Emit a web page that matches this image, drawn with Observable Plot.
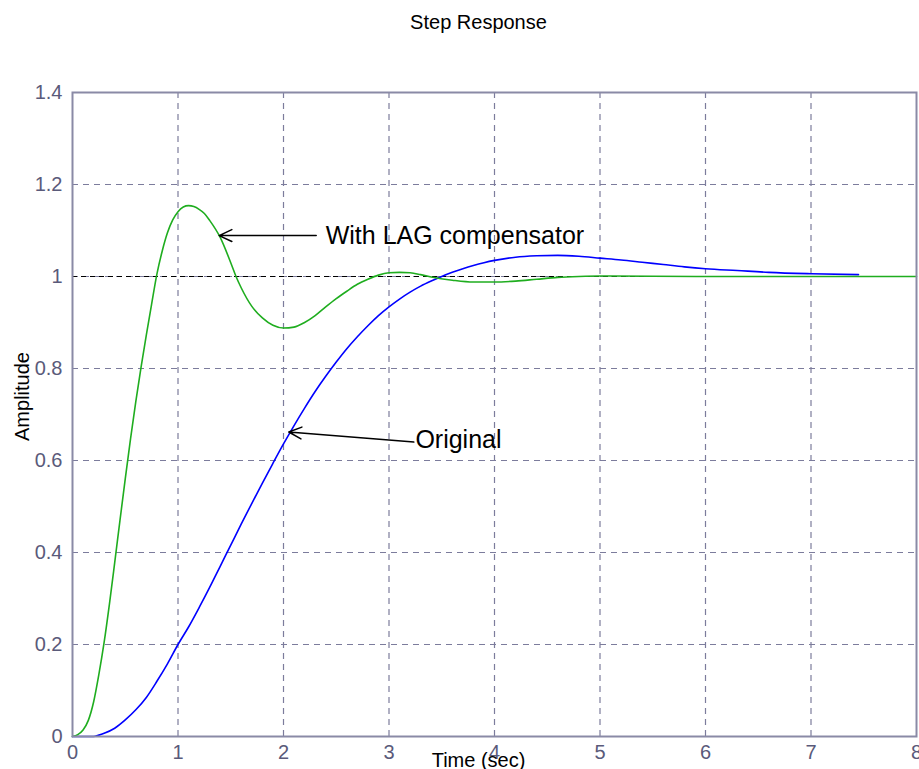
<!DOCTYPE html>
<html>
<head>
<meta charset="utf-8">
<script src="https://cdn.jsdelivr.net/npm/d3@7"></script>
<script src="https://cdn.jsdelivr.net/npm/@observablehq/plot@0.6"></script>
<style>
  html, body { margin: 0; padding: 0; background: #fff; }
  body { width: 919px; height: 769px; overflow: hidden; font-family: "Liberation Sans", Arial, sans-serif; }
  #title { height: 46px; line-height: 44px; font-size: 20px; text-align: center; padding-left: 38px; color: #000; }
</style>
</head>
<body>
<div id="title">Step Response</div>
<div id="chart"></div>
<script>
// ---- Data ----
const lagTime = [0, 0.05, 0.10, 0.15, 0.20, 0.25, 0.30, 0.35, 0.40, 0.45, 0.50, 0.55, 0.60, 0.65, 0.70, 0.75, 0.80, 0.85, 0.90, 0.95, 1.00, 1.05, 1.10, 1.15, 1.20, 1.25, 1.30, 1.40, 1.50, 1.55, 1.60, 1.70, 1.80, 1.90, 2.00, 2.10, 2.20, 2.30, 2.40, 2.50, 2.60, 2.70, 2.80, 2.90, 3.00, 3.10, 3.20, 3.30, 3.40, 3.60, 3.80, 4.00, 4.20, 4.40, 4.60, 4.80, 5.00, 6.00, 7.00, 8.00];
const lagAmp  = [0, 0.004, 0.014, 0.035, 0.075, 0.135, 0.205, 0.288, 0.378, 0.47, 0.56, 0.647, 0.728, 0.803, 0.873, 0.94, 1.005, 1.055, 1.095, 1.123, 1.141, 1.151, 1.154, 1.152, 1.146, 1.137, 1.122, 1.085, 1.03, 1.0, 0.975, 0.935, 0.91, 0.894, 0.888, 0.89, 0.90, 0.915, 0.934, 0.952, 0.968, 0.983, 0.994, 1.003, 1.008, 1.009, 1.008, 1.004, 0.999, 0.992, 0.988, 0.988, 0.99, 0.994, 0.998, 1.0, 1.001, 1.0, 1.0, 1.0];

const origTime = [0, 0.2, 0.25, 0.3, 0.4, 0.5, 0.6, 0.7, 0.8, 0.9, 1.0, 1.1, 1.2, 1.3, 1.4, 1.5, 1.6, 1.7, 1.8, 1.9, 2.0, 2.1, 2.2, 2.3, 2.4, 2.5, 2.6, 2.7, 2.8, 2.9, 3.0, 3.1, 3.2, 3.3, 3.4, 3.5, 3.6, 3.7, 3.8, 3.9, 4.0, 4.2, 4.4, 4.6, 4.8, 5.0, 5.2, 5.4, 5.6, 5.8, 6.0, 6.3, 6.6, 7.0, 7.45];
const origAmp  = [0, 0.0, 0.003, 0.007, 0.018, 0.036, 0.058, 0.085, 0.12, 0.158, 0.2, 0.238, 0.28, 0.324, 0.37, 0.416, 0.462, 0.507, 0.551, 0.594, 0.636, 0.676, 0.714, 0.75, 0.783, 0.814, 0.843, 0.869, 0.893, 0.915, 0.934, 0.951, 0.966, 0.979, 0.99, 1.0, 1.009, 1.017, 1.024, 1.03, 1.035, 1.042, 1.045, 1.046, 1.044, 1.04, 1.036, 1.031, 1.026, 1.021, 1.017, 1.013, 1.009, 1.006, 1.004];

const xTicks = [0, 1, 2, 3, 4, 5, 6, 7, 8];
const xTickLabels = ["0", "1", "2", "3", "4", "5", "6", "7", "8"];
const yTicks = [0, 0.2, 0.4, 0.6, 0.8, 1, 1.2, 1.4];
const yTickLabels = ["0", "0.2", "0.4", "0.6", "0.8", "1", "1.2", "1.4"];

const steadyState = [1];

const annotLabels = ["With LAG compensator", "Original"];
const annotTextX  = [2.40, 3.25];
const annotTextY  = [1.089, 0.645];
const arrowFromX  = [2.31, 3.235];
const arrowFromY  = [1.089, 0.640];
const arrowToX    = [1.39, 2.05];
const arrowToY    = [1.089, 0.662];

const xLabel = "Time (sec)";
const yLabel = "Amplitude";

// ---- Build tables ----
const lag = lagTime.map((t, i) => ({t, a: lagAmp[i]}));
const orig = origTime.map((t, i) => ({t, a: origAmp[i]}));
const annots = annotLabels.map((label, i) => ({
  label, tx: annotTextX[i], ty: annotTextY[i],
  x1: arrowFromX[i], y1: arrowFromY[i], x2: arrowToX[i], y2: arrowToY[i]
}));

const gridColor = "#7c7c9c";
const axisColor = "#8a8aa6";
const tickColor = "#5a5a7a";

const chart = Plot.plot({
  width: 919,
  height: 723,
  marginTop: 46,
  marginBottom: 33,
  marginLeft: 72,
  marginRight: 3,
  style: {fontFamily: "'Liberation Sans', Arial, sans-serif", background: "#fff", overflow: "visible"},
  x: {domain: [0, 8], ticks: xTicks},
  y: {domain: [0, 1.4], ticks: yTicks},
  marks: [
    Plot.gridX(xTicks.slice(1, -1), {stroke: gridColor, strokeOpacity: 1, strokeWidth: 1.2, strokeDasharray: "6,5"}),
    Plot.gridY(yTicks.slice(1, -1), {stroke: gridColor, strokeOpacity: 1, strokeWidth: 1.2, strokeDasharray: "6,5"}),
    Plot.ruleY(steadyState, {stroke: "#000", strokeWidth: 1.2, strokeDasharray: "5,4"}),
    Plot.line(orig, {x: "t", y: "a", stroke: "#0000ff", strokeWidth: 1.6, curve: "monotone-x"}),
    Plot.line(lag, {x: "t", y: "a", stroke: "#1fad1f", strokeWidth: 1.6, curve: "monotone-x"}),
    Plot.arrow(annots, {x1: "x1", y1: "y1", x2: "x2", y2: "y2", stroke: "#000", strokeWidth: 1.5, headLength: 14, headAngle: 50}),
    Plot.text(annots, {x: "tx", y: "ty", text: "label", textAnchor: "start", fontSize: 25, fill: "#000"}),
    Plot.frame({stroke: axisColor, strokeWidth: 2}),
    Plot.axisX(xTicks, {tickSize: 0, tickPadding: 8, fontSize: 20, color: tickColor, tickFormat: (d, i) => xTickLabels[i], label: null}),
    Plot.axisY(yTicks, {tickSize: 0, tickPadding: 10, fontSize: 20, color: tickColor, tickFormat: (d, i) => yTickLabels[i], label: null}),
    Plot.text([xLabel], {frameAnchor: "bottom", textAnchor: "middle", lineAnchor: "middle", dx: -16, dy: 24, fontSize: 20, fill: "#000"}),
    Plot.text([yLabel], {frameAnchor: "left", textAnchor: "middle", lineAnchor: "middle", dx: -50, dy: -18, rotate: -90, fontSize: 20, fill: "#000"})
  ]
});
document.getElementById("chart").appendChild(chart);
</script>
</body>
</html>
